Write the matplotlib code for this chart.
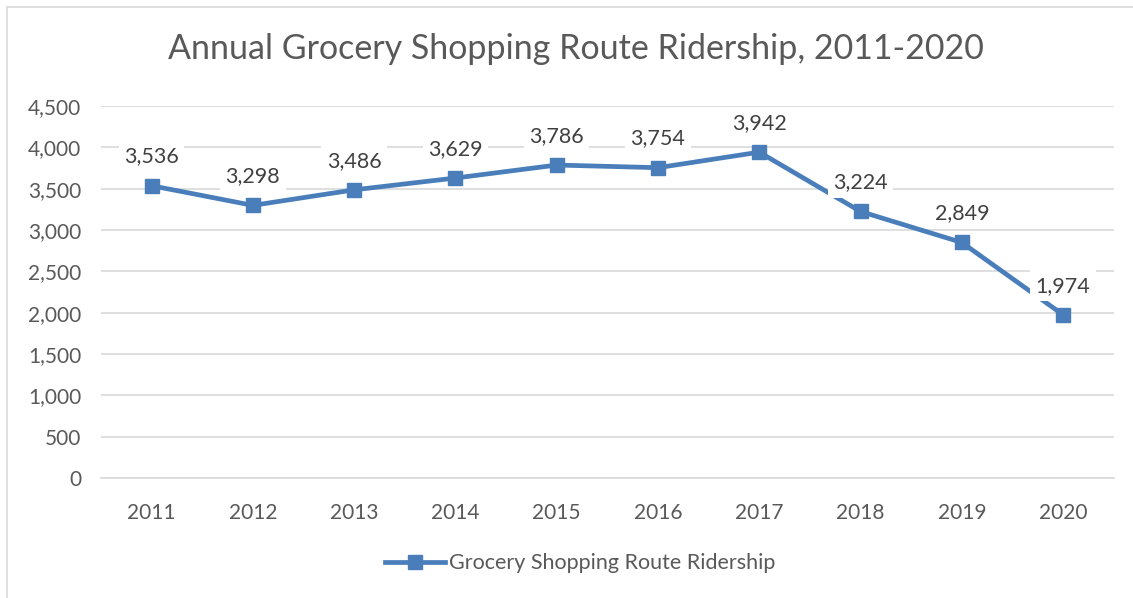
import matplotlib
matplotlib.use('Agg')
import matplotlib.pyplot as plt
from matplotlib.patches import Rectangle

years = ['2011', '2012', '2013', '2014', '2015', '2016', '2017', '2018', '2019', '2020']
ridership = [3536, 3298, 3486, 3629, 3786, 3754, 3942, 3224, 2849, 1974]
y_ticks = [0, 500, 1000, 1500, 2000, 2500, 3000, 3500, 4000, 4500]

text_color = '#595959'
line_color = '#4a7ebb'
plt.rcParams['font.family'] = ['Lato', 'DejaVu Sans']

fig = plt.figure(figsize=(11.33, 5.98), dpi=100)
ax = fig.add_axes([0.0891, 0.2007, 0.8939, 0.622])

x = range(len(years))
ax.plot(x, ridership, color=line_color, linewidth=3.4, marker='s', markersize=9.5,
        label='Grocery Shopping Route Ridership', zorder=3)

for i, v in enumerate(ridership):
    ax.annotate(f'{v:,}', (i, v), xytext=(0, 21), textcoords='offset points',
                ha='center', va='center', fontsize=15.5, color='#404040', zorder=4,
                bbox=dict(boxstyle='square,pad=0.25', fc='white', ec='none'))

ax.set_xlim(-0.5, len(years) - 0.5)
ax.set_ylim(0, 4500)
ax.set_xticks(list(x))
ax.set_xticklabels(years)
ax.set_yticks(y_ticks)
ax.set_yticklabels([f'{t:,}' for t in y_ticks])
ax.tick_params(length=0, labelsize=15, colors=text_color, pad=14)
ax.tick_params(axis='x', pad=18)
ax.grid(axis='y', color='#d9d9d9', linewidth=1.2)
ax.set_axisbelow(True)
for s in ['top', 'right', 'left']:
    ax.spines[s].set_visible(False)
ax.spines['bottom'].set_color('#d9d9d9')
ax.spines['bottom'].set_linewidth(1.2)

fig.text(0.508, 0.918, 'Annual Grocery Shopping Route Ridership, 2011-2020',
         ha='center', va='center', fontsize=24.5, color=text_color)

ax.legend(loc='center', bbox_to_anchor=(0.512, 0.058), bbox_transform=fig.transFigure,
          frameon=False, fontsize=15.5, labelcolor=text_color, handlelength=2.8,
          handletextpad=0.15)

fig.patches.append(Rectangle((7 / 1133, -0.1), 1.2, 1 - 7 / 598 + 0.1, transform=fig.transFigure,
                             fill=False, ec='#d9d9d9', lw=1.2))

fig.savefig('out.png', dpi=100)
